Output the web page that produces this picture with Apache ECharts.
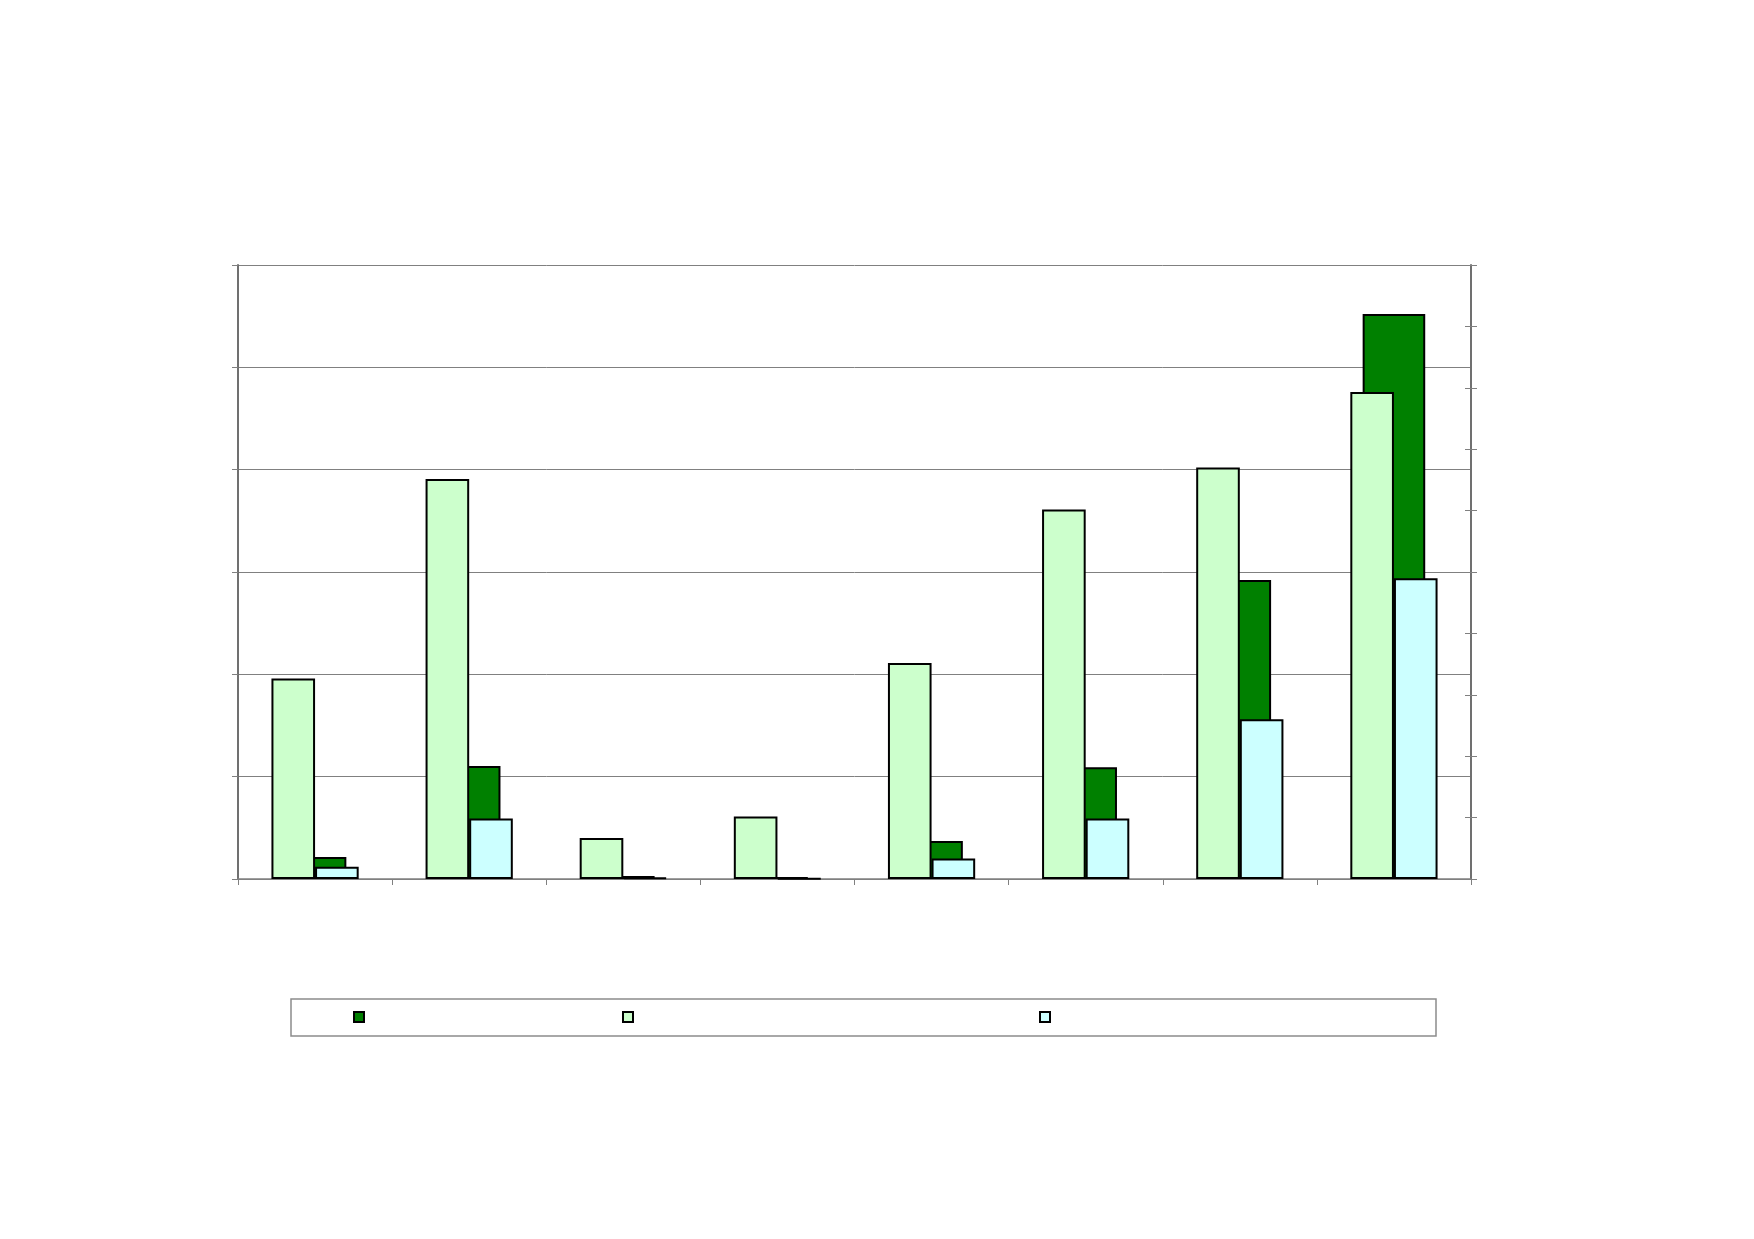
<!DOCTYPE html>
<html>
<head>
<meta charset="utf-8">
<script src="https://cdn.jsdelivr.net/npm/echarts@6/dist/echarts.min.js"></script>
<style>
  html, body { margin: 0; padding: 0; background: #ffffff; }
  #chart { width: 1754px; height: 1239px; }
</style>
</head>
<body>
<div id="chart"></div>
<script>
// 8 groups, labels are not printed in the picture
var categories = ['1', '2', '3', '4', '5', '6', '7', '8'];
// dark green, read on the right axis (0-1000)
var darkValues = [36, 184, 5, 3, 62, 182, 487, 920];
// light green, read on the left axis (0-600)
var lightValues = [196, 391, 40, 61, 211, 361, 402, 476];
// light cyan, read on the left axis (0-600)
var cyanValues = [12, 59, 1.5, 0.6, 20, 59, 156, 294];

var leftTicks = { min: 0, max: 600, interval: 100 };
var rightTicks = { min: 0, max: 1000, interval: 100 };

var names = ['S1', 'S2', 'S3'];
var colors = ['#008000', '#CCFFCC', '#CCFFFF'];

var chart = echarts.init(document.getElementById('chart'), null, { renderer: 'canvas' });

var gridBox = { left: 238, top: 265, width: 1233, height: 614 };
var axisGrey = '#808080';

function legendAt(name, x) {
  return {
    data: [name],
    left: x,
    top: 1011,
    itemWidth: 10,
    itemHeight: 10,
    icon: 'rect',
    padding: 0,
    formatter: function () { return ''; },
    selectedMode: false
  };
}

var option = {
  backgroundColor: '#ffffff',
  animation: false,
  grid: gridBox,
  legend: [
    legendAt(names[0], 353),
    legendAt(names[1], 622),
    legendAt(names[2], 1039)
  ],
  graphic: [{
    type: 'rect',
    shape: { x: 291, y: 999, width: 1145, height: 37 },
    style: { fill: 'none', stroke: '#8c8c8c', lineWidth: 1.5 },
    silent: true
  }],
  xAxis: [{
    type: 'category',
    data: categories,
    axisLine: { lineStyle: { color: axisGrey, width: 1.5 } },
    axisTick: { show: true, length: 6, lineStyle: { color: axisGrey } },
    axisLabel: { show: false },
    splitLine: { show: false }
  }, {
    type: 'category',
    data: categories,
    show: false
  }],
  yAxis: [{
    type: 'value',
    position: 'left',
    min: leftTicks.min,
    max: leftTicks.max,
    interval: leftTicks.interval,
    axisLine: { show: true, lineStyle: { color: '#707070', width: 2 } },
    axisTick: { show: true, length: 6, lineStyle: { color: axisGrey } },
    axisLabel: { show: false },
    splitLine: { show: true, lineStyle: { color: axisGrey, width: 1 } }
  }, {
    type: 'value',
    position: 'right',
    min: rightTicks.min,
    max: rightTicks.max,
    interval: rightTicks.interval,
    axisLine: { show: true, lineStyle: { color: '#707070', width: 2 } },
    axisTick: { show: true, length: 6, lineStyle: { color: axisGrey } },
    axisLabel: { show: false },
    splitLine: { show: false }
  }, {
    // inner half of the crossing ticks on the right side
    type: 'value',
    position: 'right',
    min: rightTicks.min,
    max: rightTicks.max,
    interval: rightTicks.interval,
    axisLine: { show: false },
    axisTick: { show: true, inside: true, length: 6, lineStyle: { color: axisGrey } },
    axisLabel: { show: false },
    splitLine: { show: false }
  }],
  series: [{
    name: names[0],
    type: 'bar',
    xAxisIndex: 1,
    yAxisIndex: 1,
    z: 1,
    barWidth: '40.6%',
    data: darkValues,
    itemStyle: { color: colors[0], borderColor: '#000000', borderWidth: 2 }
  }, {
    name: names[1],
    type: 'bar',
    xAxisIndex: 0,
    yAxisIndex: 0,
    z: 3,
    barWidth: '28.3%',
    barGap: '0%',
    data: lightValues,
    itemStyle: { color: colors[1], borderColor: '#000000', borderWidth: 2 }
  }, {
    name: names[2],
    type: 'bar',
    xAxisIndex: 0,
    yAxisIndex: 0,
    z: 3,
    barWidth: '28.3%',
    barGap: '0%',
    data: cyanValues,
    itemStyle: { color: colors[2], borderColor: '#000000', borderWidth: 2 }
  }]
};

chart.setOption(option);
</script>
</body>
</html>
